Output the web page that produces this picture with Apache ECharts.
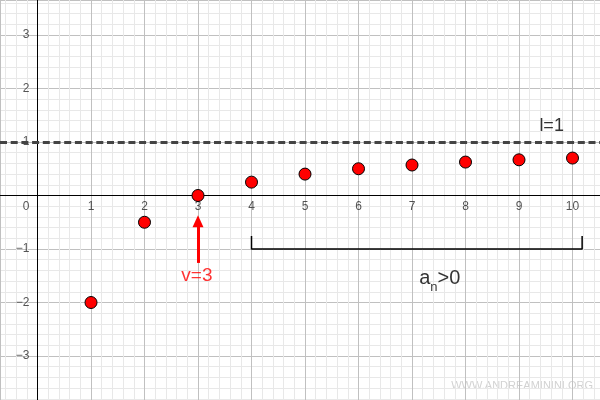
<!DOCTYPE html>
<html>
<head>
<meta charset="utf-8">
<script src="https://cdn.jsdelivr.net/npm/echarts@6/dist/echarts.min.js"></script>
<style>html,body{margin:0;padding:0;background:#fff}#c{width:600px;height:400px}</style>
</head>
<body>
<div id="c"></div>
<script>
// index n of the sequence
const nValues = [1, 2, 3, 4, 5, 6, 7, 8, 9, 10];
// sequence values a_n
const aValues = [-2, -0.5, 0, 0.25, 0.4, 0.5, 0.57, 0.625, 0.667, 0.7];
// limit
const limitValue = 1;
// vertex index v
const vIndex = 3;
// tick labels
const xTickValues = [1, 2, 3, 4, 5, 6, 7, 8, 9, 10];
const yTickValues = [-3, -2, -1, 1, 2, 3];

const FONT = "'Liberation Sans', Arial, sans-serif";
const chart = echarts.init(document.getElementById('c'), null, {renderer: 'canvas'});

const fmt = v => (v < 0 ? '\u2212' + Math.abs(v) : String(v));
const tickLabel = {color: '#2a2a2a', fontSize: 12, fontFamily: FONT};

const option = {
  animation: false,
  backgroundColor: '#ffffff',
  grid: {left: 0, right: 0, top: 0, bottom: 0, containLabel: false, outerBoundsMode: 'none'},
  xAxis: {
    type: 'value', min: -0.701, max: 10.514, splitNumber: 11, minInterval: 1, maxInterval: 1,
    axisLine: {show: false},
    axisTick: {show: false},
    axisLabel: {show: false},
    splitLine: {show: true, lineStyle: {color: '#c0c0c0', width: 1}},
    minorTick: {show: false, splitNumber: 5},
    minorSplitLine: {show: true, lineStyle: {color: '#e8e8e8', width: 1}}
  },
  yAxis: {
    type: 'value', min: -3.822, max: 3.654, splitNumber: 8, minInterval: 1, maxInterval: 1,
    axisLine: {show: false},
    axisTick: {show: false},
    axisLabel: {show: false},
    splitLine: {show: true, lineStyle: {color: '#c0c0c0', width: 1}},
    minorTick: {show: false, splitNumber: 5},
    minorSplitLine: {show: true, lineStyle: {color: '#e8e8e8', width: 1}}
  },
  series: [
    {
      // bracket under n >= 4
      type: 'line', silent: true, symbol: 'none', z: 3,
      lineStyle: {color: '#000', width: 1.5},
      data: [[4, -0.757], [4, -1], [10.18, -1], [10.18, -0.757]],
      markLine: {
        silent: true, label: {show: false}, symbol: ['none', 'none'],
        lineStyle: {color: '#ff0000', width: 3, type: 'solid'},
        data: [
          // axes through the origin
          {yAxis: 0, lineStyle: {color: '#000', width: 1, type: 'solid'}},
          {xAxis: 0, lineStyle: {color: '#000', width: 1, type: 'solid'}},
          {yAxis: limitValue, lineStyle: {color: '#444', width: 3, type: [7, 3.7]}},
          [
            {coord: [vIndex, -1.26], symbol: 'none'},
            {coord: [vIndex, -0.48], symbol: 'triangle', symbolSize: [11, 12]}
          ]
        ]
      }
    },
    {
      // x tick labels
      type: 'scatter', silent: true, symbolSize: 0, z: 4,
      label: Object.assign({show: true, position: 'inside', offset: [0, 11.2], formatter: p => fmt(p.value[0])}, tickLabel),
      data: xTickValues.map(v => [v, 0])
    },
    {
      // y tick labels
      type: 'scatter', silent: true, symbolSize: 0, z: 4,
      label: Object.assign({show: true, position: 'left', distance: 8, formatter: p => fmt(p.value[1])}, tickLabel),
      data: yTickValues.map(v => [0, v])
    },
    {
      // origin label
      type: 'scatter', silent: true, symbolSize: 0, z: 4,
      label: Object.assign({show: true, position: 'inside', offset: [-11.5, 11.2], formatter: '0'}, tickLabel),
      data: [[0, 0]]
    },
    {
      type: 'scatter', z: 5,
      symbolSize: 12,
      itemStyle: {color: '#ff0000', borderColor: '#000', borderWidth: 1, opacity: 1},
      data: nValues.map((n, i) => [n, aValues[i]])
    },
    {
      // text annotations
      type: 'scatter', silent: true, symbolSize: 0, z: 6,
      label: {show: true, position: 'inside', fontFamily: FONT},
      data: [
        {value: [9.61, 1.3], label: {formatter: 'l=1', color: '#000', fontSize: 18}},
        {value: [2.98, -1.505], label: {formatter: 'v=' + vIndex, color: '#ff0000', fontSize: 19}},
        {value: [7.52, -1.55], label: {formatter: '{a|a}{s|n}{a|>0}',
          rich: {a: {fontSize: 20, color: '#000', fontFamily: FONT, verticalAlign: 'bottom'},
                 s: {fontSize: 13, color: '#000', fontFamily: FONT, verticalAlign: 'bottom', padding: [0, 0, -5, 0]}}}}
      ]
    }
  ],
  graphic: [
    {type: 'text', right: 7, top: 380, silent: true,
     style: {text: 'WWW.ANDREAMININI.ORG', fill: '#d2d2d2', fontSize: 11, fontFamily: FONT}}
  ]
};
chart.setOption(option);
</script>
</body>
</html>
